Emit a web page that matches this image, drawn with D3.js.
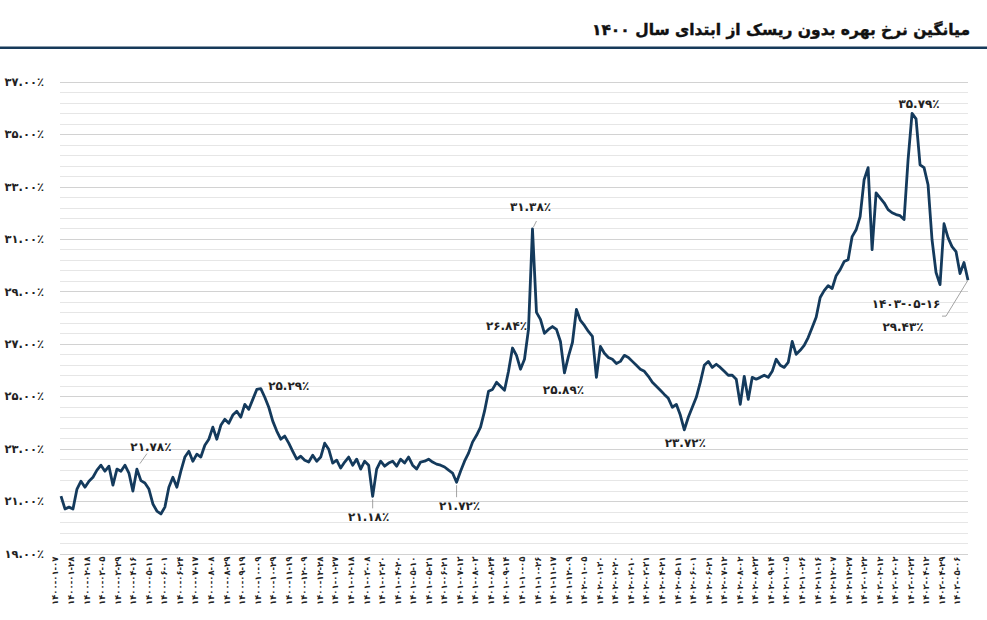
<!DOCTYPE html>
<html>
<head>
<meta charset="utf-8">
<script src="https://d3js.org/d3.v7.min.js"></script>
<style>
  body { margin: 0; background: #fff; }
  text { font-family: "DejaVu Sans", sans-serif; }
</style>
</head>
<body>
<div id="chart"></div>
<script>
var title = "میانگین نرخ بهره بدون ریسک از ابتدای سال ۱۴۰۰";

var labels = ["1400-01-07","1400-01-28","1400-02-18","1400-03-05","1400-03-29","1400-04-16","1400-05-11","1400-06-01",
  "1400-06-24","1400-07-17","1400-08-08","1400-08-29","1400-09-19","1400-10-09","1400-10-29","1400-11-19",
  "1400-12-09","1400-12-28","1401-01-27","1401-02-18","1401-03-08","1401-03-30","1401-04-20","1401-05-10",
  "1401-05-31","1401-06-21","1401-07-13","1401-08-03","1401-08-24","1401-09-14","1401-10-05","1401-10-26",
  "1401-11-17","1401-12-09","1402-01-05","1402-01-30","1402-02-20","1402-03-10","1402-03-31","1402-04-21",
  "1402-05-11","1402-06-01","1402-06-21","1402-07-12","1402-08-02","1402-08-23","1402-09-14","1402-10-05",
  "1402-10-26","1402-11-16","1402-12-07","1402-12-27","1403-01-22","1403-02-12","1403-03-02","1403-03-23",
  "1403-04-12","1403-04-29","1403-05-06"];

// average risk-free rate (%), sampled along the trading days
var rates = [21.19,20.70,20.77,20.70,21.46,21.76,21.53,21.76,21.91,22.18,22.37,22.14,22.33,21.61,22.22,22.14,
  22.37,22.07,21.38,22.22,21.78,21.69,21.46,20.89,20.62,20.51,20.77,21.53,21.91,21.53,22.14,22.68,
  22.90,22.52,22.79,22.68,23.13,23.36,23.82,23.36,23.89,24.12,23.97,24.28,24.43,24.20,24.69,24.50,
  24.88,25.26,25.29,24.96,24.58,24.05,23.67,23.36,23.48,23.21,22.90,22.60,22.71,22.56,22.49,22.75,
  22.52,22.68,23.21,22.98,22.45,22.56,22.26,22.49,22.68,22.37,22.60,22.22,22.52,22.37,21.18,22.22,
  22.52,22.33,22.45,22.52,22.33,22.60,22.45,22.68,22.37,22.22,22.49,22.52,22.60,22.49,22.41,22.37,
  22.30,22.18,22.07,21.72,22.14,22.52,22.83,23.25,23.51,23.82,24.43,25.19,25.26,25.53,25.38,25.23,
  25.95,26.84,26.56,26.03,26.41,27.55,31.38,28.20,27.93,27.40,27.55,27.66,27.55,27.09,25.89,26.52,
  27.05,28.31,27.89,27.70,27.47,27.28,25.72,26.90,26.64,26.48,26.41,26.25,26.33,26.56,26.48,26.33,
  26.18,26.03,25.95,25.76,25.53,25.38,25.23,25.07,24.92,24.58,24.69,24.28,23.72,24.20,24.58,24.96,
  25.53,26.18,26.33,26.10,26.22,26.10,25.95,25.80,25.80,25.65,24.69,25.76,24.88,25.72,25.65,25.72,
  25.80,25.72,25.95,26.41,26.18,26.10,26.29,27.09,26.60,26.75,26.94,27.24,27.62,28.01,28.77,29.03,
  29.22,29.11,29.60,29.83,30.14,30.21,31.09,31.35,31.85,33.26,33.72,30.59,32.76,32.57,32.38,32.12,
  32.00,31.93,31.89,31.74,34.02,35.79,35.58,33.83,33.72,33.07,30.97,29.72,29.26,31.58,31.05,30.71,
  30.52,29.68,30.10,29.43];

var yTicks = [19, 21, 23, 25, 27, 29, 31, 33, 35, 37];

// points that carry a value label
var notes = [20, 50, 78, 99, 113, 118, 126, 156, 213];
var lastDate = "1403-05-16";

// label offsets from the point: [dx, dy, leader x1, y1, x2, y2]
var noteLayout = [
  [10, -34, -1, -17, 6, -27],
  [28, -3, 0, 0, 0, 0],
  [-4, 20, 0, 3, 0, 12],
  [3, 24, 0, 3, 0, 15],
  [-6, -22, 0, 0, 0, 0],
  [-2, -22, 1, -2, 4, -8],
  [-1, 17, 0, 0, 0, 0],
  [1, 13, 0, 0, 0, 0],
  [7, -10, 0, 0, 0, 0]
];

var width = 987, height = 620,
    plot = { left: 61, right: 968, top: 81.7, bottom: 553.5 },
    lineColor = "#143a5c";

function toFa(s) {
  return String(s).replace(/[0-9]/g, function(c) { return "۰۱۲۳۴۵۶۷۸۹"[+c]; }).replace("%", "٪");
}

var svg = d3.select("#chart").append("svg")
    .attr("width", width)
    .attr("height", height);

var x = d3.scaleLinear().domain([0, rates.length - 1]).range([plot.left, plot.right]);
var xl = d3.scaleLinear().domain([0, labels.length - 1]).range([55, 957]);
var y = d3.scaleLinear().domain([19, 37]).range([plot.bottom, plot.top]);

// title and rule
svg.append("text")
    .attr("x", 970)
    .attr("y", 35)
    .style("text-anchor", "end")
    .style("font-size", "15.5px")
    .style("font-weight", "bold")
    .style("fill", "#111")
    .style("stroke", "#111")
    .style("stroke-width", 0.4)
    .text(title);

svg.append("rect")
    .attr("x", 0)
    .attr("y", 46.5)
    .attr("width", width)
    .attr("height", 2.5)
    .style("fill", "#173a5a");

// grid: minor every 0.4, major on the labelled ticks
svg.append("g").selectAll("line")
    .data(d3.range(0, 46).map(function(i) { return 19 + i * 0.4; }))
    .enter().append("line")
      .attr("x1", plot.left - 1)
      .attr("x2", plot.right)
      .attr("y1", function(d) { return Math.round(y(d)) + 0.5; })
      .attr("y2", function(d) { return Math.round(y(d)) + 0.5; })
      .style("stroke", function(d, i) { return i % 5 === 0 ? "#d2d2d2" : "#e6e6e6"; })
      .style("stroke-width", 1);

var yAxis = svg.append("g")
    .attr("transform", "translate(44,0)")
    .call(d3.axisLeft(y).tickValues(yTicks).tickSize(0).tickPadding(0)
      .tickFormat(function(d) { return toFa(d.toFixed(2) + "%"); }));
yAxis.select(".domain").remove();
yAxis.selectAll("text")
    .style("font-family", "DejaVu Sans")
    .style("font-size", "11.5px")
    .style("font-weight", "bold")
    .style("fill", "#222");

var xAxis = svg.append("g")
    .attr("transform", "translate(0," + plot.bottom + ")")
    .call(d3.axisBottom(xl).tickValues(d3.range(labels.length)).tickSize(0)
      .tickFormat(function(i) { return toFa(labels[i]); }));
xAxis.select(".domain").remove();
xAxis.selectAll("text")
    .attr("transform", "rotate(-90)")
    .attr("x", -3)
    .attr("y", 0)
    .attr("dy", "0.35em")
    .style("text-anchor", "end")
    .style("font-family", "DejaVu Sans")
    .style("font-size", "8.5px")
    .style("font-weight", "bold")
    .style("fill", "#222");

// the rate line
var line = d3.line()
    .x(function(d, i) { return x(i); })
    .y(function(d) { return y(d); });

svg.append("path")
    .datum(rates)
    .attr("d", line)
    .style("fill", "none")
    .style("stroke", lineColor)
    .style("stroke-width", 2.8)
    .style("stroke-linejoin", "round");

// value labels
var ann = svg.append("g");
notes.forEach(function(k, j) {
  var px = x(k), py = y(rates[k]), o = noteLayout[j];
  if (o[3] !== o[5]) {
    ann.append("line")
        .attr("x1", px + o[2]).attr("y1", py + o[3])
        .attr("x2", px + o[4]).attr("y2", py + o[5])
        .style("stroke", "#8c8c8c")
        .style("stroke-width", 0.8);
  }
  ann.append("text")
      .attr("x", px + o[0])
      .attr("y", py + o[1])
      .attr("dy", "0.35em")
      .style("text-anchor", "middle")
      .style("font-size", "12px")
      .style("font-weight", "bold")
      .style("fill", "#222")
      .text(toFa(rates[k].toFixed(2) + "%"));
});

// last point: date and value with leader
var lx = x(rates.length - 1), ly = y(rates[rates.length - 1]);
ann.append("polyline")
    .attr("points", [[lx, ly], [lx - 22, ly + 36], [lx - 26, ly + 36]].join(" "))
    .style("fill", "none")
    .style("stroke", "#8c8c8c")
    .style("stroke-width", 0.8);
ann.append("text")
    .attr("x", lx - 62)
    .attr("y", ly + 24)
    .attr("dy", "0.35em")
    .style("text-anchor", "middle")
    .style("font-size", "12px")
    .style("font-weight", "bold")
    .style("fill", "#222")
    .text(toFa(lastDate));
ann.append("text")
    .attr("x", lx - 65)
    .attr("y", ly + 47)
    .attr("dy", "0.35em")
    .style("text-anchor", "middle")
    .style("font-size", "12px")
    .style("font-weight", "bold")
    .style("fill", "#222")
    .text(toFa(rates[rates.length - 1].toFixed(2) + "%"));
</script>
</body>
</html>
